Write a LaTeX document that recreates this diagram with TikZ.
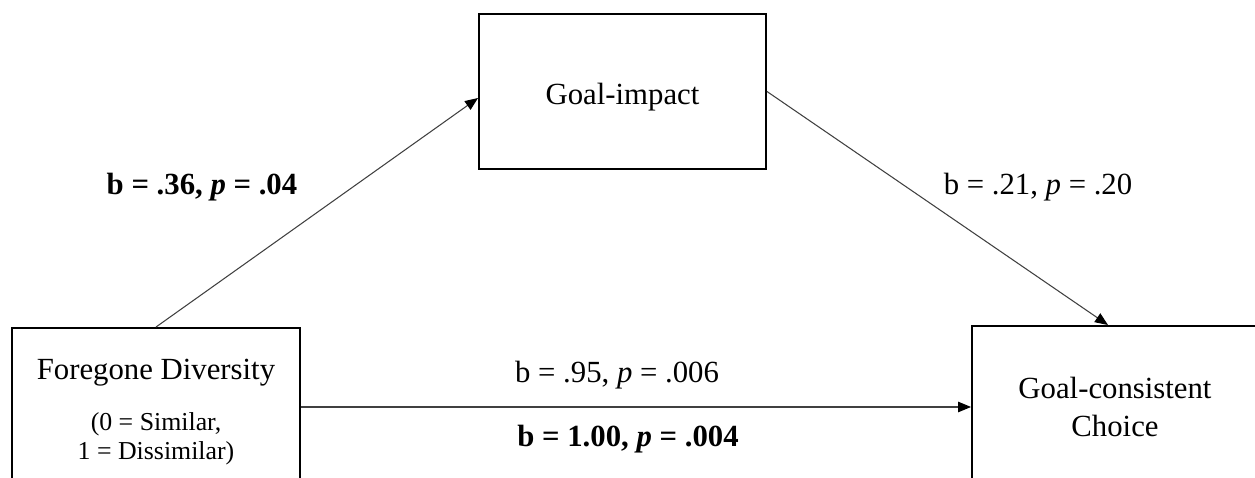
\documentclass[tikz,border=0pt]{standalone}
\usepackage{fontspec}
\setmainfont{Liberation Serif}
\usepackage{tikz}
\usetikzlibrary{
    arrows.meta,
    positioning,
    calc
}
\newcommand{\subsize}{\fontsize{14.7}{16.5}\selectfont}
\tikzstyle{varbox} = [
    rectangle,
    draw=black,
    line width=1.1pt,
    align=center,
    font=\fontsize{17.5}{21.5}\selectfont
]
\tikzstyle{arrow} = [
    -{Triangle[length=0.26cm, width=0.21cm, color=black]},
    line width=0.6pt,
    draw=black!75
]
\tikzstyle{coef} = [
    anchor=base,
    font=\fontsize{17.5}{21}\selectfont
]

\begin{document}
\begin{tikzpicture}
        \useasboundingbox (0,0) rectangle (25.1,9.56);
        \clip (0,0) rectangle (25.1,9.56);

        % Predictor (bottom cut off by the frame)
        \node[varbox, minimum width=5.76cm, minimum height=3.08cm,
              font=\fontsize{17.5}{16.5}\selectfont] (diversity) at (3.12,1.46)
            {\rule{0pt}{19.5pt}Foregone Diversity\\[12.5pt]\subsize (0 = Similar,\\\subsize 1 = Dissimilar)};

        % Mediator
        \node[varbox, minimum width=5.74cm, minimum height=3.10cm] (impact) at (12.45,7.73) {\rule{0pt}{18pt}Goal-impact};

        % Outcome
        \node[varbox, minimum width=5.72cm, minimum height=3.24cm] (choice) at (22.30,1.42) {Goal-consistent\\Choice};

        % Paths
        \draw[arrow] (diversity.north) -- ([yshift=-0.13cm]impact.west);
        \draw[arrow] (impact.east) -- ([xshift=-0.14cm]choice.north);
        \draw[arrow] ([yshift=-0.04cm]diversity.east) -- ([yshift=-0.04cm]diversity.east -| choice.west);

        % Path coefficients
        \node[coef] (a) at (4.04,5.66) {\textbf{b = .36, \textit{p} = .04}};
        \node[coef] (b) at (20.76,5.66) {b = .21, \textit{p} = .20};
        \node[coef] (c) at (12.34,1.90) {b = .95, \textit{p} = .006};
        \node[coef] (cprime) at (12.56,0.62) {\textbf{b = 1.00, \textit{p} = .004}};
    \end{tikzpicture}
\end{document}
